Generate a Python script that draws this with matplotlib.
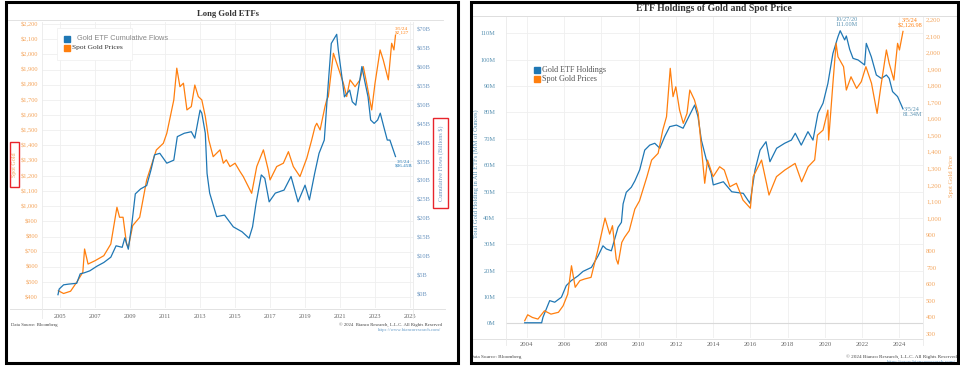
import matplotlib
matplotlib.use("Agg")
import matplotlib.pyplot as plt
from matplotlib.patches import Rectangle
from matplotlib.lines import Line2D
from matplotlib.ticker import FuncFormatter

# ---------------- data: left panel "Long Gold ETFs" ----------------
flow_years = [2004.88, 2004.95, 2005.2, 2005.5, 2005.95, 2006.15, 2006.4, 2006.7, 2007.1, 2007.5,
              2007.9, 2008.2, 2008.55, 2008.7, 2008.9, 2009.1, 2009.3, 2009.6, 2009.95, 2010.2,
              2010.4, 2010.7, 2011.1, 2011.5, 2011.7, 2012.1, 2012.5, 2012.7, 2013.0, 2013.1,
              2013.3, 2013.4, 2013.55, 2013.95, 2014.4, 2014.9, 2015.4, 2015.8, 2016.0, 2016.2,
              2016.5, 2016.7, 2016.95, 2017.3, 2017.8, 2018.2, 2018.6, 2019.0, 2019.25, 2019.55,
              2019.8, 2020.1, 2020.3, 2020.5, 2020.81, 2020.9, 2021.1, 2021.25, 2021.55, 2021.7,
              2021.9, 2022.1, 2022.25, 2022.4, 2022.6, 2022.75, 2022.95, 2023.15, 2023.3, 2023.5,
              2023.7, 2023.85, 2024.17]
flow_billions = [0.0, 1.5, 2.6, 2.8, 3.0, 5.5, 5.8, 6.3, 7.5, 8.5,
                 9.9, 12.9, 12.5, 15.0, 12.0, 18.6, 26.6, 27.9, 28.8, 33.0,
                 36.9, 37.3, 34.7, 35.5, 41.7, 42.6, 43.0, 41.3, 48.7, 47.9,
                 42.6, 32.0, 26.8, 20.6, 21.0, 17.9, 16.6, 14.9, 17.9, 24.1,
                 31.6, 30.7, 24.5, 26.8, 27.6, 31.2, 24.5, 28.9, 25.0, 32.0,
                 37.3, 40.8, 54.0, 66.3, 68.7, 64.6, 57.7, 52.2, 54.0, 50.9,
                 50.0, 55.8, 60.2, 56.6, 52.2, 46.1, 45.2, 46.1, 47.9, 44.3,
                 40.8, 40.8, 36.45]

left_gold_years = [2004.9, 2005.2, 2005.6, 2005.95, 2006.3, 2006.4, 2006.6, 2007.0, 2007.5, 2007.9,
                   2008.25, 2008.4, 2008.6, 2008.8, 2008.9, 2009.15, 2009.55, 2009.95, 2010.5, 2010.9,
                   2011.1, 2011.3, 2011.5, 2011.67, 2011.85, 2012.05, 2012.25, 2012.5, 2012.7, 2012.9,
                   2013.1, 2013.3, 2013.5, 2013.75, 2014.14, 2014.33, 2014.5, 2014.71, 2015.0, 2015.29,
                   2015.47, 2015.95, 2016.24, 2016.62, 2016.9, 2017.0, 2017.38, 2017.76, 2018.05, 2018.33,
                   2018.71, 2019.1, 2019.38, 2019.57, 2019.67, 2019.86, 2020.14, 2020.24, 2020.33, 2020.62,
                   2020.81, 2021.0, 2021.19, 2021.38, 2021.57, 2021.86, 2022.14, 2022.33, 2022.52, 2022.81,
                   2023.0, 2023.29, 2023.47, 2023.76, 2023.95, 2024.08, 2024.17]
left_gold_prices = [443, 425, 440, 499, 565, 718, 619, 641, 674, 751,
                    993, 927, 927, 751, 729, 872, 927, 1173, 1370, 1414,
                    1480, 1590, 1700, 1909, 1787, 1810, 1634, 1656, 1798, 1722,
                    1700, 1590, 1436, 1326, 1371, 1283, 1305, 1261, 1283, 1227,
                    1195, 1085, 1261, 1371, 1238, 1173, 1261, 1283, 1359, 1261,
                    1195, 1316, 1436, 1524, 1546, 1502, 1656, 1700, 1722, 2007,
                    1942, 1876, 1810, 1722, 1832, 1787, 1832, 1919, 1810, 1634,
                    1810, 2029, 1963, 1832, 2073, 2029, 2127]

left_xtick_years = [2005, 2007, 2009, 2011, 2013, 2015, 2017, 2019, 2021, 2023, 2025]
left_price_ticks = list(range(400, 2201, 100))
left_flow_ticks = list(range(0, 71, 5))

# ---------------- data: right panel "ETF Holdings of Gold and Spot Price" ----------------
holdings_years = [2003.89, 2004.8, 2004.87, 2005.23, 2005.5, 2005.86, 2006.12, 2006.39, 2006.75, 2007.02,
                  2007.47, 2007.83, 2008.09, 2008.27, 2008.54, 2008.72, 2008.9, 2009.08, 2009.17, 2009.34,
                  2009.61, 2009.8, 2010.06, 2010.33, 2010.6, 2010.87, 2011.14, 2011.4, 2011.67, 2012.03,
                  2012.39, 2012.74, 2013.01, 2013.19, 2013.37, 2013.64, 2013.9, 2014.01, 2014.55, 2015.0,
                  2015.62, 2015.98, 2016.25, 2016.52, 2016.84, 2017.05, 2017.41, 2017.84, 2018.2, 2018.41,
                  2018.73, 2019.09, 2019.36, 2019.63, 2019.9, 2020.16, 2020.43, 2020.7, 2020.82, 2021.06,
                  2021.15, 2021.33, 2021.51, 2021.78, 2022.13, 2022.22, 2022.49, 2022.76, 2023.03, 2023.3,
                  2023.45, 2023.63, 2023.9, 2024.19]
holdings_moz = [0.2, 0.2, 2.3, 8.6, 8.0, 9.9, 14.3, 16.2, 18.0, 19.7,
                21.2, 25.6, 29.4, 28.2, 27.5, 32.0, 36.4, 38.3, 45.3, 49.7,
                51.6, 54.0, 58.2, 65.7, 67.6, 68.3, 66.4, 70.8, 74.6, 75.2,
                74.0, 79.0, 82.8, 78.4, 69.5, 62.0, 56.9, 52.5, 53.7, 49.9,
                49.3, 45.5, 58.2, 65.7, 68.9, 61.3, 66.4, 68.3, 69.5, 72.1,
                67.6, 72.7, 69.5, 79.7, 83.5, 91.0, 102.4, 108.7, 111.0, 107.5,
                109.0, 103.9, 100.5, 99.9, 98.0, 106.2, 101.1, 94.2, 92.9, 94.2,
                92.9, 87.9, 86.0, 81.34]

right_gold_years = [2003.89, 2004.05, 2004.3, 2004.6, 2004.95, 2005.3, 2005.7, 2005.95, 2006.2, 2006.4,
                    2006.6, 2006.85, 2007.1, 2007.45, 2007.8, 2008.0, 2008.2, 2008.45, 2008.6, 2008.8,
                    2008.9, 2009.1, 2009.25, 2009.5, 2009.8, 2010.05, 2010.45, 2010.7, 2011.05, 2011.3,
                    2011.5, 2011.7, 2011.85, 2012.0, 2012.2, 2012.4, 2012.6, 2012.75, 2013.0, 2013.2,
                    2013.35, 2013.55, 2013.7, 2014.0, 2014.35, 2014.6, 2014.9, 2015.25, 2015.6, 2016.0,
                    2016.15, 2016.6, 2017.0, 2017.4, 2017.85, 2018.4, 2018.75, 2019.1, 2019.45, 2019.6,
                    2019.9, 2020.16, 2020.2, 2020.43, 2020.6, 2020.7, 2021.0, 2021.15, 2021.4, 2021.7,
                    2021.95, 2022.2, 2022.5, 2022.8, 2023.0, 2023.3, 2023.45, 2023.7, 2023.9, 2024.0,
                    2024.19]
right_gold_prices = [380, 416, 400, 390, 440, 420, 431, 470, 541, 712,
                     582, 622, 632, 642, 800, 900, 1000, 903, 954, 753,
                     722, 853, 884, 924, 1054, 1104, 1250, 1350, 1391, 1532,
                     1612, 1904, 1733, 1793, 1652, 1572, 1632, 1773, 1713, 1632,
                     1451, 1210, 1350, 1250, 1310, 1290, 1189, 1210, 1109, 1059,
                     1250, 1350, 1139, 1250, 1290, 1330, 1219, 1310, 1351, 1501,
                     1531, 1652, 1471, 1814, 2055, 1974, 1914, 1773, 1853, 1783,
                     1823, 1914, 1814, 1632, 1793, 2015, 1934, 1833, 2055, 2015,
                     2126.98]

right_xtick_years = list(range(2004, 2025, 2))
right_holding_ticks = list(range(0, 111, 10))
right_price_ticks = list(range(300, 2201, 100))

# ---------------- styling ----------------
BLUE = "#1f77b4"
ORANGE = "#ff7f0e"
TICK_ORANGE = "#f4a65e"
TICK_BLUE = "#6f98c2"
TICK_TEAL = "#5b93b3"
GRID = "#efefef"
SERIF = ["Liberation Serif", "DejaVu Serif"]

W, H = 960, 368
fig = plt.figure(figsize=(9.6, 3.68), dpi=100)
fig.patch.set_facecolor("white")


def rect(x0, y0, x1, y1):
    return [x0 / W, 1 - y1 / H, (x1 - x0) / W, (y1 - y0) / H]


def fx(x):
    return x / W


def fy(y):
    return 1 - y / H


def fline(x0, y0, x1, y1, color="#e4e4e4", lw=0.7, z=1):
    fig.add_artist(Line2D([fx(x0), fx(x1)], [fy(y0), fy(y1)], color=color, lw=lw, zorder=z))


def ftext(x, y, s, **kw):
    kw.setdefault("family", SERIF)
    fig.text(fx(x), fy(y), s, **kw)


def style_axes(ax):
    for sp in ax.spines.values():
        sp.set_visible(False)
    ax.tick_params(length=0)


# =================== LEFT PANEL ===================
axL = fig.add_axes(rect(41.7, 22, 413, 308.3))
axL.set_xlim(2003.95, 2025.17)
axL.set_ylim(327.5, 2213)
axL.set_yticks(left_price_ticks)
axL.yaxis.set_major_formatter(FuncFormatter(lambda v, p: f"${v:,.0f}"))
axL.set_xticks(left_xtick_years)
axL.set_xticklabels([str(y) for y in left_xtick_years])
axL.grid(True, color=GRID, lw=0.6)
axL.set_axisbelow(True)
style_axes(axL)
axL.tick_params(axis="y", labelsize=4.6, labelcolor=TICK_ORANGE, pad=2.7)
axL.tick_params(axis="x", labelsize=4.6, labelcolor="#666666", pad=4.0)
for t in axL.get_xticklabels() + axL.get_yticklabels():
    t.set_family(SERIF)
axL.plot(left_gold_years, left_gold_prices, color=ORANGE, lw=0.9, zorder=2)

axLr = axL.twinx()
axLr.set_ylim(-3.59, 71.95)
axLr.set_yticks(left_flow_ticks)
axLr.yaxis.set_major_formatter(FuncFormatter(lambda v, p: f"${v:.0f}B"))
style_axes(axLr)
axLr.tick_params(axis="y", labelsize=4.6, labelcolor=TICK_BLUE, pad=2.7)
for t in axLr.get_yticklabels():
    t.set_family(SERIF)
axLr.plot(flow_years, flow_billions, color=BLUE, lw=0.9, zorder=3)

# end annotations
axL.annotate(f"3/5/24\n${left_gold_prices[-1]:,.0f}", xy=(left_gold_years[-1], left_gold_prices[-1]),
             xytext=(4.3, 0), textcoords="offset points", ha="center", va="bottom",
             fontsize=3.7, color=ORANGE, family=SERIF, linespacing=0.95)
axLr.annotate(f"3/5/24\n${flow_billions[-1]:.2f}B", xy=(flow_years[-1], flow_billions[-1]),
              xytext=(5.8, -2.2), textcoords="offset points", ha="center", va="top",
              fontsize=3.7, color=BLUE, family=SERIF, linespacing=0.95)

# frame lines, title, legend
fline(8, 20, 443, 20, color="#dddddd", lw=0.6)
fline(10, 308.8, 445, 308.8, color="#e2e2e2", lw=0.7)
fline(41.7, 22, 41.7, 318, color="#eaeaea", lw=0.6)
fline(413, 22, 413, 318, color="#eaeaea", lw=0.6)
ftext(228, 14, "Long Gold ETFs", ha="center", va="center", fontsize=6.2, weight="bold", color="#333333")

fig.add_artist(Rectangle((fx(57), fy(60)), fx(75), 32 / H, facecolor="white", edgecolor="#eeeeee",
                         lw=0.5, zorder=4))
fig.add_artist(Line2D([fx(66.7)], [fy(39)], marker="s", ms=4.0, color=BLUE, lw=0, zorder=5))
fig.add_artist(Line2D([fx(66.7)], [fy(48)], marker="s", ms=4.0, color=ORANGE, lw=0, zorder=5))
fig.text(fx(77), fy(39), "Gold ETF Cumulative Flows", ha="left", va="center", fontsize=5.3,
         family=["Liberation Sans", "DejaVu Sans"], color="#888888", zorder=5)
ftext(71.5, 48, "Spot Gold Prices", ha="left", va="center", fontsize=5.4, color="#333333", zorder=5)

# axis titles (boxed)
ftext(14.8, 164.5, "Spot Gold", rotation=90, ha="center", va="center", fontsize=4.3, color=TICK_ORANGE)
ftext(440.8, 163, "Cumulative Flows (Billions $)", rotation=90, ha="center", va="center",
      fontsize=4.4, color=TICK_BLUE)
fig.add_artist(Rectangle((fx(10), fy(187.3)), fx(9.3), 45.6 / H, fill=False, edgecolor="#e8242c",
                         lw=1.0, zorder=8))
fig.add_artist(Rectangle((fx(433.3), fy(208)), fx(15), 89.7 / H, fill=False, edgecolor="#e8242c",
                         lw=1.0, zorder=8))

# footer
ftext(10.7, 325, "Data Source: Bloomberg", ha="left", va="center", fontsize=3.4, color="#444444")
ftext(441.7, 324.7, "\u00a9 2024  Bianco Research, L.L.C. All Rights Reserved", ha="right", va="center",
      fontsize=3.4, color="#444444")
ftext(441.7, 330, "https://www.biancoresearch.com/", ha="right", va="center", fontsize=3.4,
      color="#6a9ec9")

# panel border
fig.add_artist(Rectangle((fx(6.2), fy(363)), fx(458 - 6.2), 361 / H, fill=False, edgecolor="black",
                         lw=2.2, zorder=10))

# =================== RIGHT PANEL ===================
axR = fig.add_axes(rect(505.7, 17, 923.3, 338.3))
axR.set_xlim(2002.87, 2025.28)
axR.set_ylim(-5.69, 116.2)
axR.set_yticks(right_holding_ticks)
axR.yaxis.set_major_formatter(FuncFormatter(lambda v, p: f"{v:.0f}M"))
axR.set_xticks(right_xtick_years)
axR.set_xticklabels([str(y) for y in right_xtick_years])
axR.grid(True, color=GRID, lw=0.6)
axR.set_axisbelow(True)
style_axes(axR)
axR.tick_params(axis="y", labelsize=4.6, labelcolor=TICK_TEAL, pad=7.5)
axR.tick_params(axis="x", labelsize=4.8, labelcolor="#666666", pad=3.0)
for t in axR.get_xticklabels() + axR.get_yticklabels():
    t.set_family(SERIF)
axR.axhline(0, color="#d9d9d9", lw=0.8, zorder=1)
axR.plot(holdings_years, holdings_moz, color=BLUE, lw=0.9, zorder=2)

axRr = axR.twinx()
axRr.set_ylim(274, 2214)
axRr.set_yticks(right_price_ticks)
axRr.yaxis.set_major_formatter(FuncFormatter(lambda v, p: f"{v:,.0f}"))
style_axes(axRr)
axRr.tick_params(axis="y", labelsize=4.8, labelcolor=TICK_ORANGE, pad=2.0)
for t in axRr.get_yticklabels():
    t.set_family(SERIF)
axRr.plot(right_gold_years, right_gold_prices, color=ORANGE, lw=0.9, zorder=3)

# annotations
ipk = holdings_moz.index(max(holdings_moz))
axR.annotate(f"10/27/20\n{holdings_moz[ipk]:.2f}M", xy=(holdings_years[ipk], holdings_moz[ipk]),
             xytext=(4.3, 2.5), textcoords="offset points", ha="center", va="bottom",
             fontsize=4.4, color=TICK_TEAL, family=SERIF, linespacing=0.95)
axRr.annotate(f"3/5/24\n${right_gold_prices[-1]:,.2f}", xy=(right_gold_years[-1], right_gold_prices[-1]),
              xytext=(5.0, 2.3), textcoords="offset points", ha="center", va="bottom",
              fontsize=4.4, color=ORANGE, family=SERIF, linespacing=0.95)
axR.annotate(f"3/5/24\n{holdings_moz[-1]:.2f}M", xy=(holdings_years[-1], holdings_moz[-1]),
             xytext=(6.5, 1.5), textcoords="offset points", ha="center", va="top",
             fontsize=4.4, color=TICK_TEAL, family=SERIF, linespacing=0.95)

# frame lines, title, legend
fline(472, 15.7, 957, 15.7, color="#d8d8d8", lw=0.6)
fline(473, 338.6, 923.3, 338.6, color="#e2e2e2", lw=0.7)
fline(505.7, 17, 505.7, 345, color="#eaeaea", lw=0.6)
fline(923.3, 17, 923.3, 345, color="#eaeaea", lw=0.6)
ftext(714, 8.3, "ETF Holdings of Gold and Spot Price", ha="center", va="center", fontsize=7.0,
      weight="bold", color="#333333")

fig.add_artist(Line2D([fx(537.3)], [fy(70)], marker="s", ms=4.2, color=BLUE, lw=0, zorder=5))
fig.add_artist(Line2D([fx(537.3)], [fy(79)], marker="s", ms=4.2, color=ORANGE, lw=0, zorder=5))
ftext(541.5, 70, "Gold ETF Holdings", ha="left", va="center", fontsize=5.9, color="#555555", zorder=5)
ftext(541.5, 79, "Spot Gold Prices", ha="left", va="center", fontsize=5.9, color="#555555", zorder=5)

ftext(476, 174, "Total Gold Holding in All ETFs (MM of Ounces)", rotation=90, ha="center", va="center",
      fontsize=4.7, color=TICK_TEAL)
ftext(951, 176, "Spot Gold Price", rotation=90, ha="center", va="center", fontsize=4.7, color=TICK_ORANGE)

ftext(470.5, 356.7, "Data Source: Bloomberg", ha="left", va="center", fontsize=3.7, color="#444444")
ftext(956.5, 356.7, "\u00a9 2024 Bianco Research, L.L.C. All Rights Reserved", ha="right", va="center",
      fontsize=3.7, color="#444444")
ftext(956.5, 362, "https://www.biancoresearch.com/", ha="right", va="center", fontsize=3.7,
      color="#6a9ec9")

fig.add_artist(Rectangle((fx(471.3), fy(363)), fx(957.5 - 471.3), 361 / H, fill=False,
                         edgecolor="black", lw=2.2, zorder=10))

fig.savefig("out.png", dpi=100, facecolor="white")
